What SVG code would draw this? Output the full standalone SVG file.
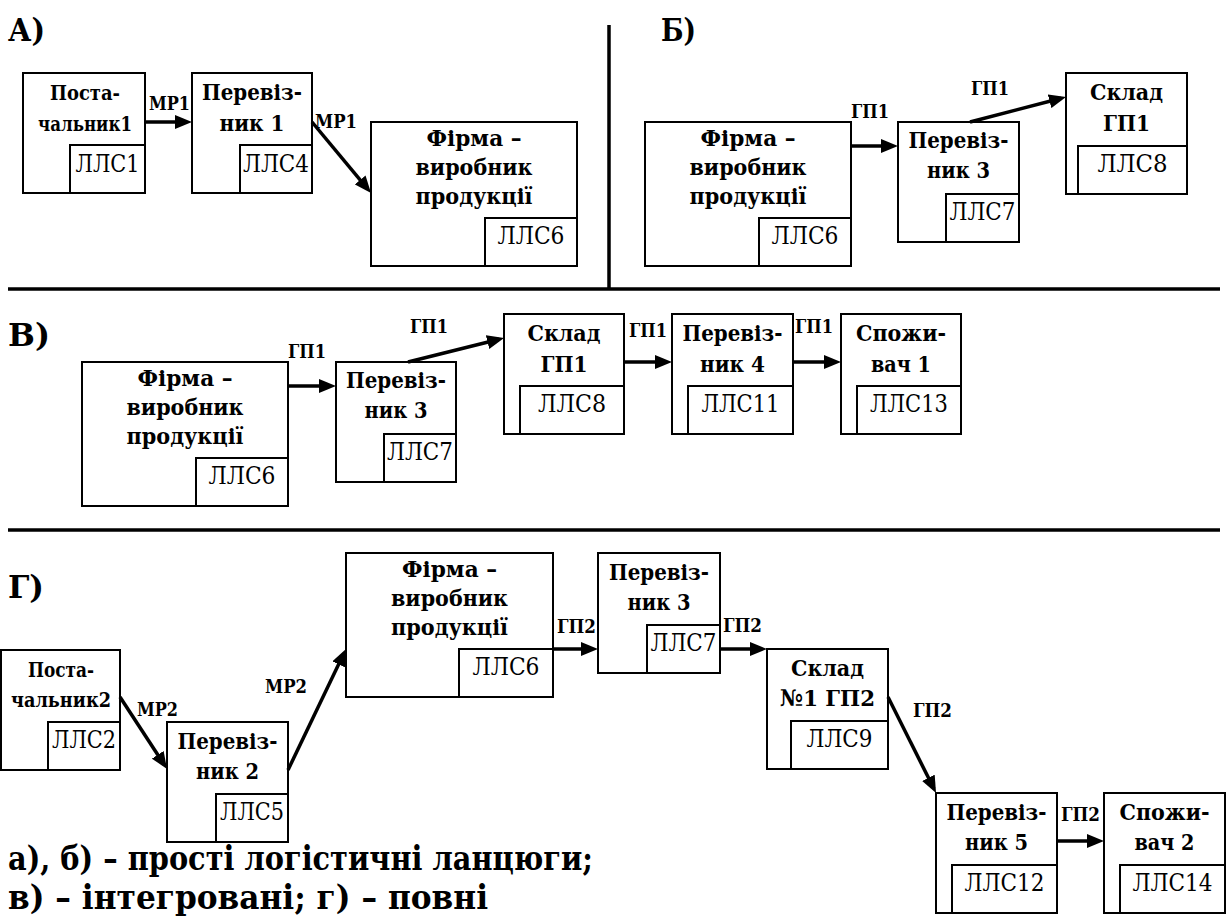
<svg xmlns="http://www.w3.org/2000/svg" width="1227" height="923" viewBox="0 0 1227 923">
<style>
text{font-family:'DejaVu Serif','Liberation Serif',serif;fill:#000}
.box{fill:#fff;stroke:#000;stroke-width:2}
.sub{fill:none;stroke:#000;stroke-width:2}
.t{font-weight:bold;font-size:23px;text-anchor:middle}
.tn{font-weight:bold;font-size:21px;text-anchor:middle}
.l{font-size:24.5px;text-anchor:middle}
.e{font-weight:bold;font-size:18px}
.sec{font-weight:bold;font-size:31px}
.cap{font-weight:bold;font-size:33px}
.conn{stroke:#000;stroke-width:3.5;fill:none;marker-end:url(#ah)}
.sep{stroke:#000;stroke-width:3.5}
</style>
<defs>
<marker id="ah" markerUnits="userSpaceOnUse" markerWidth="17" markerHeight="14" viewBox="0 0 17 14" refX="12" refY="7" orient="auto">
<path d="M0,0 L17,7 L0,14 z" fill="#000"/>
</marker>
</defs>
<rect width="1227" height="923" fill="#fff"/>

<g id="separators">
<line class="sep" x1="609" y1="25" x2="609" y2="289"/>
<line class="sep" x1="8" y1="289" x2="1220" y2="289"/>
<line class="sep" x1="8" y1="530" x2="1220" y2="530"/>
</g>

<g id="section-labels">
<text class="sec" x="8" y="41" textLength="37" lengthAdjust="spacingAndGlyphs">А)</text>
<text class="sec" x="661" y="41" textLength="35" lengthAdjust="spacingAndGlyphs">Б)</text>
<text class="sec" x="8" y="346" textLength="42" lengthAdjust="spacingAndGlyphs">В)</text>
<text class="sec" x="8" y="598" textLength="36" lengthAdjust="spacingAndGlyphs">Г)</text>
</g>

<!-- A -->
<g id="a-postachalnyk1">
<rect class="box" x="23" y="73" width="122" height="120"/>
<rect class="sub" x="70" y="145" width="75" height="48"/>
<text class="tn" x="85" y="100" textLength="70" lengthAdjust="spacingAndGlyphs">Поста-</text>
<text class="tn" x="85" y="131" textLength="94" lengthAdjust="spacingAndGlyphs">чальник1</text>
<text class="l" x="107.5" y="172" textLength="64" lengthAdjust="spacingAndGlyphs">ЛЛС1</text>
</g>
<g id="a-pereviznyk1">
<rect class="box" x="192" y="73" width="120" height="120"/>
<rect class="sub" x="240" y="145" width="72" height="48"/>
<text class="t" x="252" y="100" textLength="100" lengthAdjust="spacingAndGlyphs">Перевіз-</text>
<text class="t" x="252" y="131" textLength="65" lengthAdjust="spacingAndGlyphs">ник 1</text>
<text class="l" x="276" y="172" textLength="66" lengthAdjust="spacingAndGlyphs">ЛЛС4</text>
</g>
<g id="a-firma">
<rect class="box" x="371" y="122" width="206" height="144"/>
<rect class="sub" x="485" y="218" width="92" height="48"/>
<text class="t" x="474" y="146" textLength="95" lengthAdjust="spacingAndGlyphs">Фірма –</text>
<text class="t" x="474" y="175" textLength="117" lengthAdjust="spacingAndGlyphs">виробник</text>
<text class="t" x="474" y="204" textLength="117" lengthAdjust="spacingAndGlyphs">продукції</text>
<text class="l" x="531" y="244" textLength="67" lengthAdjust="spacingAndGlyphs">ЛЛС6</text>
</g>

<!-- Б -->
<g id="b-firma">
<rect class="box" x="645" y="122" width="206" height="144"/>
<rect class="sub" x="759" y="218" width="92" height="48"/>
<text class="t" x="748" y="146" textLength="95" lengthAdjust="spacingAndGlyphs">Фірма –</text>
<text class="t" x="748" y="175" textLength="117" lengthAdjust="spacingAndGlyphs">виробник</text>
<text class="t" x="748" y="204" textLength="117" lengthAdjust="spacingAndGlyphs">продукції</text>
<text class="l" x="805" y="244" textLength="67" lengthAdjust="spacingAndGlyphs">ЛЛС6</text>
</g>
<g id="b-pereviznyk3">
<rect class="box" x="898" y="122" width="121" height="120"/>
<rect class="sub" x="946" y="194" width="73" height="48"/>
<text class="t" x="958.5" y="148" textLength="100" lengthAdjust="spacingAndGlyphs">Перевіз-</text>
<text class="t" x="958.5" y="178" textLength="63" lengthAdjust="spacingAndGlyphs">ник 3</text>
<text class="l" x="982.5" y="220" textLength="66" lengthAdjust="spacingAndGlyphs">ЛЛС7</text>
</g>
<g id="b-sklad">
<rect class="box" x="1066" y="73" width="121" height="121"/>
<rect class="sub" x="1078" y="146" width="109" height="48"/>
<text class="t" x="1126.5" y="100" textLength="73" lengthAdjust="spacingAndGlyphs">Склад</text>
<text class="t" x="1126.5" y="131" textLength="47" lengthAdjust="spacingAndGlyphs">ГП1</text>
<text class="l" x="1132.5" y="172" textLength="70" lengthAdjust="spacingAndGlyphs">ЛЛС8</text>
</g>

<!-- В -->
<g id="v-firma">
<rect class="box" x="82" y="362" width="206" height="144"/>
<rect class="sub" x="196" y="458" width="92" height="48"/>
<text class="t" x="185" y="386" textLength="95" lengthAdjust="spacingAndGlyphs">Фірма –</text>
<text class="t" x="185" y="415" textLength="117" lengthAdjust="spacingAndGlyphs">виробник</text>
<text class="t" x="185" y="444" textLength="117" lengthAdjust="spacingAndGlyphs">продукції</text>
<text class="l" x="242" y="484" textLength="67" lengthAdjust="spacingAndGlyphs">ЛЛС6</text>
</g>
<g id="v-pereviznyk3">
<rect class="box" x="336" y="362" width="120" height="120"/>
<rect class="sub" x="384" y="434" width="72" height="48"/>
<text class="t" x="396" y="388" textLength="100" lengthAdjust="spacingAndGlyphs">Перевіз-</text>
<text class="t" x="396" y="418" textLength="63" lengthAdjust="spacingAndGlyphs">ник 3</text>
<text class="l" x="420" y="460" textLength="66" lengthAdjust="spacingAndGlyphs">ЛЛС7</text>
</g>
<g id="v-sklad">
<rect class="box" x="504" y="314" width="120" height="120"/>
<rect class="sub" x="520" y="386" width="104" height="48"/>
<text class="t" x="564" y="341" textLength="73" lengthAdjust="spacingAndGlyphs">Склад</text>
<text class="t" x="564" y="372" textLength="47" lengthAdjust="spacingAndGlyphs">ГП1</text>
<text class="l" x="572" y="412" textLength="68" lengthAdjust="spacingAndGlyphs">ЛЛС8</text>
</g>
<g id="v-pereviznyk4">
<rect class="box" x="672" y="314" width="121" height="120"/>
<rect class="sub" x="688" y="386" width="105" height="48"/>
<text class="t" x="732.5" y="341" textLength="100" lengthAdjust="spacingAndGlyphs">Перевіз-</text>
<text class="t" x="732.5" y="372" textLength="65" lengthAdjust="spacingAndGlyphs">ник 4</text>
<text class="l" x="740.5" y="412" textLength="78" lengthAdjust="spacingAndGlyphs">ЛЛС11</text>
</g>
<g id="v-spozhyvach1">
<rect class="box" x="841" y="314" width="120" height="120"/>
<rect class="sub" x="857" y="386" width="104" height="48"/>
<text class="t" x="901" y="341" textLength="90" lengthAdjust="spacingAndGlyphs">Спожи-</text>
<text class="t" x="901" y="372" textLength="60" lengthAdjust="spacingAndGlyphs">вач 1</text>
<text class="l" x="909" y="412" textLength="78" lengthAdjust="spacingAndGlyphs">ЛЛС13</text>
</g>

<!-- Г -->
<g id="g-postachalnyk2">
<rect class="box" x="1" y="650" width="119" height="120"/>
<rect class="sub" x="48" y="722" width="72" height="48"/>
<text class="tn" x="61" y="677" textLength="66" lengthAdjust="spacingAndGlyphs">Поста-</text>
<text class="tn" x="61" y="707" textLength="100" lengthAdjust="spacingAndGlyphs">чальник2</text>
<text class="l" x="84" y="748" textLength="64" lengthAdjust="spacingAndGlyphs">ЛЛС2</text>
</g>
<g id="g-pereviznyk2">
<rect class="box" x="167" y="722" width="121" height="120"/>
<rect class="sub" x="216" y="794" width="72" height="48"/>
<text class="t" x="227.5" y="749" textLength="100" lengthAdjust="spacingAndGlyphs">Перевіз-</text>
<text class="t" x="227.5" y="779" textLength="63" lengthAdjust="spacingAndGlyphs">ник 2</text>
<text class="l" x="252" y="820" textLength="64" lengthAdjust="spacingAndGlyphs">ЛЛС5</text>
</g>
<g id="g-firma">
<rect class="box" x="346" y="553" width="207" height="144"/>
<rect class="sub" x="459" y="649" width="94" height="48"/>
<text class="t" x="449.5" y="577" textLength="95" lengthAdjust="spacingAndGlyphs">Фірма –</text>
<text class="t" x="449.5" y="606" textLength="117" lengthAdjust="spacingAndGlyphs">виробник</text>
<text class="t" x="449.5" y="635" textLength="117" lengthAdjust="spacingAndGlyphs">продукції</text>
<text class="l" x="506" y="675" textLength="67" lengthAdjust="spacingAndGlyphs">ЛЛС6</text>
</g>
<g id="g-pereviznyk3">
<rect class="box" x="598" y="553" width="122" height="120"/>
<rect class="sub" x="647" y="625" width="73" height="48"/>
<text class="t" x="659" y="580" textLength="100" lengthAdjust="spacingAndGlyphs">Перевіз-</text>
<text class="t" x="659" y="610" textLength="63" lengthAdjust="spacingAndGlyphs">ник 3</text>
<text class="l" x="683.5" y="651" textLength="66" lengthAdjust="spacingAndGlyphs">ЛЛС7</text>
</g>
<g id="g-sklad1">
<rect class="box" x="767" y="649" width="121" height="120"/>
<rect class="sub" x="791" y="721" width="97" height="48"/>
<text class="t" x="827.5" y="676" textLength="73" lengthAdjust="spacingAndGlyphs">Склад</text>
<text class="t" x="827.5" y="706" textLength="95" lengthAdjust="spacingAndGlyphs">№1 ГП2</text>
<text class="l" x="839.5" y="747" textLength="66" lengthAdjust="spacingAndGlyphs">ЛЛС9</text>
</g>
<g id="g-pereviznyk5">
<rect class="box" x="936" y="793" width="121" height="120"/>
<rect class="sub" x="952" y="865" width="105" height="48"/>
<text class="t" x="996.5" y="820" textLength="100" lengthAdjust="spacingAndGlyphs">Перевіз-</text>
<text class="t" x="996.5" y="850" textLength="63" lengthAdjust="spacingAndGlyphs">ник 5</text>
<text class="l" x="1004.5" y="891" textLength="80" lengthAdjust="spacingAndGlyphs">ЛЛС12</text>
</g>
<g id="g-spozhyvach2">
<rect class="box" x="1104" y="793" width="121" height="120"/>
<rect class="sub" x="1120" y="865" width="105" height="48"/>
<text class="t" x="1164.5" y="820" textLength="90" lengthAdjust="spacingAndGlyphs">Спожи-</text>
<text class="t" x="1164.5" y="850" textLength="60" lengthAdjust="spacingAndGlyphs">вач 2</text>
<text class="l" x="1172.5" y="891" textLength="80" lengthAdjust="spacingAndGlyphs">ЛЛС14</text>
</g>

<g id="connectors">
<line class="conn" x1="145" y1="122" x2="187" y2="122"/>
<line class="conn" x1="312" y1="122" x2="367.8" y2="189.2"/>
<line class="conn" x1="851" y1="146" x2="893" y2="146"/>
<line class="conn" x1="970" y1="122" x2="1061.2" y2="98.3"/>
<line class="conn" x1="288" y1="386" x2="331" y2="386"/>
<line class="conn" x1="408" y1="362" x2="499.2" y2="339.2"/>
<line class="conn" x1="624" y1="362" x2="667" y2="362"/>
<line class="conn" x1="793" y1="362" x2="836" y2="362"/>
<line class="conn" x1="120" y1="697" x2="164.3" y2="764.8"/>
<line class="conn" x1="288" y1="770" x2="343.8" y2="653.5"/>
<line class="conn" x1="553" y1="649" x2="593" y2="649"/>
<line class="conn" x1="720" y1="649" x2="762" y2="649"/>
<line class="conn" x1="888" y1="697" x2="933.8" y2="788.5"/>
<line class="conn" x1="1057" y1="841" x2="1099" y2="841"/>
</g>

<g id="edge-labels">
<text class="e" x="149" y="110" textLength="41" lengthAdjust="spacingAndGlyphs">МР1</text>
<text class="e" x="315" y="128" textLength="42" lengthAdjust="spacingAndGlyphs">МР1</text>
<text class="e" x="851" y="118" textLength="38" lengthAdjust="spacingAndGlyphs">ГП1</text>
<text class="e" x="971" y="95" textLength="38" lengthAdjust="spacingAndGlyphs">ГП1</text>
<text class="e" x="288" y="358" textLength="38" lengthAdjust="spacingAndGlyphs">ГП1</text>
<text class="e" x="410" y="333" textLength="38" lengthAdjust="spacingAndGlyphs">ГП1</text>
<text class="e" x="629" y="337" textLength="38" lengthAdjust="spacingAndGlyphs">ГП1</text>
<text class="e" x="795" y="333" textLength="38" lengthAdjust="spacingAndGlyphs">ГП1</text>
<text class="e" x="137" y="716" textLength="41" lengthAdjust="spacingAndGlyphs">МР2</text>
<text class="e" x="265" y="693" textLength="42" lengthAdjust="spacingAndGlyphs">МР2</text>
<text class="e" x="557" y="633" textLength="39" lengthAdjust="spacingAndGlyphs">ГП2</text>
<text class="e" x="723" y="632" textLength="39" lengthAdjust="spacingAndGlyphs">ГП2</text>
<text class="e" x="913" y="717" textLength="39" lengthAdjust="spacingAndGlyphs">ГП2</text>
<text class="e" x="1061" y="821" textLength="39" lengthAdjust="spacingAndGlyphs">ГП2</text>
</g>

<g id="caption">
<text class="cap" x="8" y="870" textLength="585" lengthAdjust="spacingAndGlyphs">а), б) – прості логістичні ланцюги;</text>
<text class="cap" x="8" y="909" textLength="480" lengthAdjust="spacingAndGlyphs">в) – інтегровані; г) – повні</text>
</g>
</svg>
